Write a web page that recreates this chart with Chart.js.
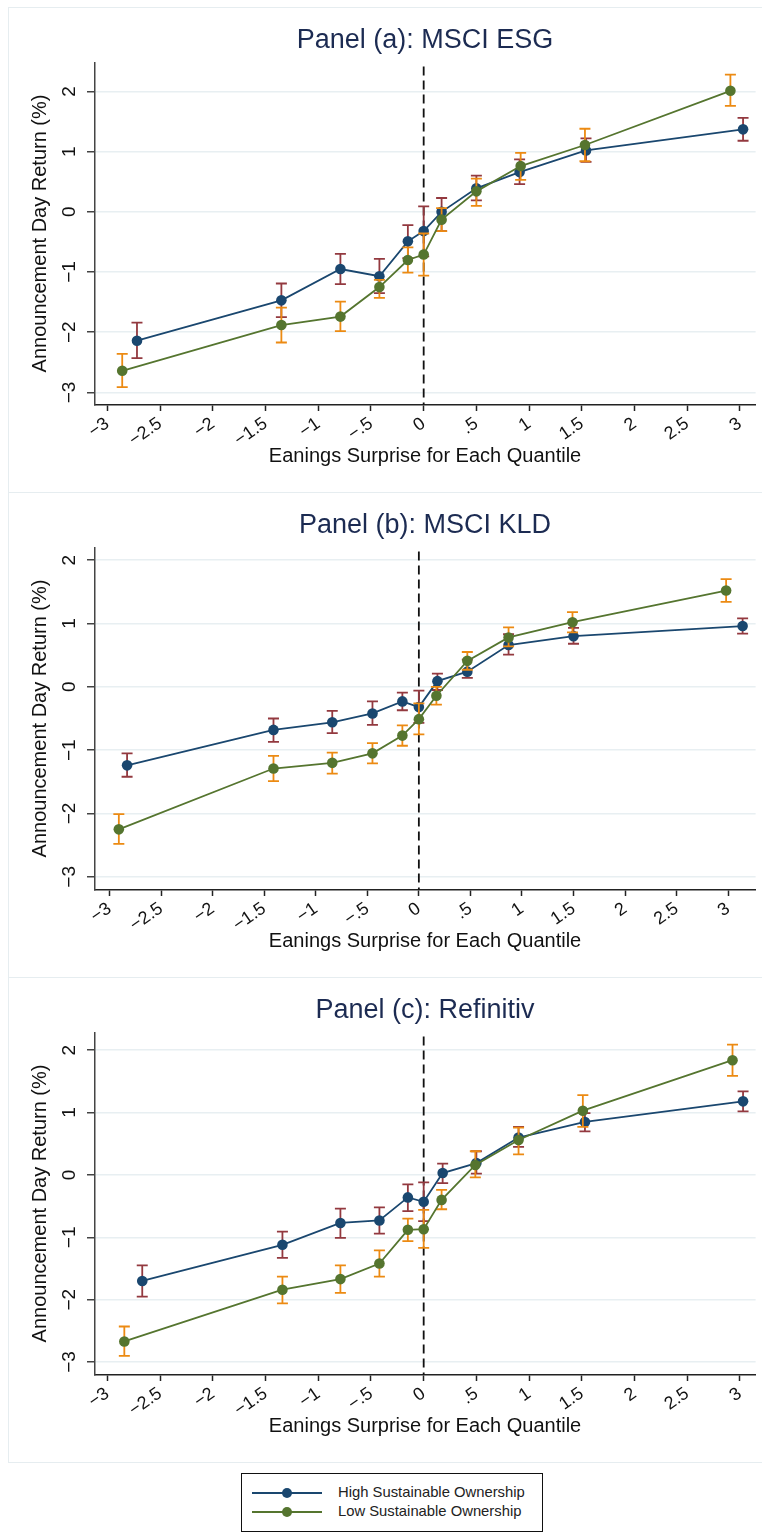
<!DOCTYPE html>
<html>
<head>
<meta charset="utf-8">
<script src="https://cdn.jsdelivr.net/npm/chart.js@4.4.0/dist/chart.umd.min.js"></script>
<style>
  body { margin: 0; background: #fff; }
  #page { position: relative; width: 762px; height: 1533px; overflow: hidden; font-family: 'Liberation Sans', Arial, sans-serif; }
  .frame { position: absolute; left: 8px; width: 760px; height: 486px; box-sizing: border-box; border: 1.5px solid #e6edf0; border-right: none; }
  .panel { position: absolute; left: 0; }
  #legend { position: absolute; left: 241px; top: 1473px; width: 302px; height: 59px; box-sizing: border-box; border: 1.2px solid #111; background: #fff; }
  .row { position: absolute; left: 0; width: 300px; height: 20px; }
  .ln { position: absolute; left: 10px; top: 9px; width: 70px; height: 2px; }
  .dot { position: absolute; left: 40px; top: 5px; width: 10px; height: 10px; border-radius: 50%; }
  .lbl { position: absolute; left: 96px; top: 1px; font-size: 14.8px; color: #222; white-space: nowrap; }
</style>
</head>
<body>
<div id="page">
  <div class="frame" style="top:7px"></div>
  <div class="frame" style="top:492px"></div>
  <div class="frame" style="top:977px"></div>
  <canvas id="panelA" class="panel" width="762" height="485" style="top:7px"></canvas>
  <canvas id="panelB" class="panel" width="762" height="485" style="top:492px"></canvas>
  <canvas id="panelC" class="panel" width="762" height="485" style="top:977px"></canvas>
  <div id="legend">
    <div class="row" style="top:9px"><span class="ln" style="background:#1a476f"></span><span class="dot" style="background:#1a476f"></span><span class="lbl">High Sustainable Ownership</span></div>
    <div class="row" style="top:28px"><span class="ln" style="background:#55752f"></span><span class="dot" style="background:#55752f"></span><span class="lbl">Low Sustainable Ownership</span></div>
  </div>
</div>
<script>
// tick labels
var xTickValues = [-3, -2.5, -2, -1.5, -1, -0.5, 0, 0.5, 1, 1.5, 2, 2.5, 3];
var xTickLabels = ['\u22123', '\u22122.5', '\u22122', '\u22121.5', '\u22121', '\u2212.5', '0', '.5', '1', '1.5', '2', '2.5', '3'];
var yTickValues = [-3, -2, -1, 0, 1, 2];
var yTickLabels = ['\u22123', '\u22122', '\u22121', '0', '1', '2'];

// Panel (a): MSCI ESG
var aHighX  = [-2.72, -1.35, -0.79, -0.42, -0.15, 0.0, 0.17, 0.50, 0.91, 1.54, 3.03];
var aHighY  = [-2.14, -1.47, -0.95, -1.07, -0.49, -0.32, 0.00, 0.39, 0.66, 1.02, 1.37];
var aHighLo = [-2.43, -1.75, -1.20, -1.35, -0.77, -0.74, -0.32, 0.19, 0.46, 0.83, 1.18];
var aHighHi = [-1.84, -1.19, -0.70, -0.78, -0.22, 0.09, 0.23, 0.60, 0.87, 1.22, 1.56];
var aLowX   = [-2.86, -1.35, -0.79, -0.42, -0.15, 0.0, 0.17, 0.50, 0.92, 1.53, 2.91];
var aLowY   = [-2.64, -1.88, -1.74, -1.25, -0.80, -0.71, -0.13, 0.34, 0.76, 1.11, 2.01];
var aLowLo  = [-2.91, -2.17, -1.98, -1.43, -1.01, -1.06, -0.32, 0.10, 0.53, 0.84, 1.76];
var aLowHi  = [-2.36, -1.59, -1.49, -1.13, -0.59, -0.36, 0.06, 0.55, 0.98, 1.38, 2.28];

// Panel (b): MSCI KLD
var bHighX  = [-2.83, -1.41, -0.84, -0.45, -0.16, 0.0, 0.18, 0.47, 0.87, 1.50, 3.14];
var bHighY  = [-1.24, -0.68, -0.56, -0.42, -0.23, -0.32, 0.09, 0.24, 0.66, 0.80, 0.96];
var bHighLo = [-1.42, -0.87, -0.73, -0.60, -0.37, -0.57, -0.05, 0.14, 0.51, 0.68, 0.84];
var bHighHi = [-1.05, -0.50, -0.38, -0.23, -0.09, -0.06, 0.21, 0.43, 0.83, 0.93, 1.08];
var bLowX   = [-2.91, -1.41, -0.84, -0.45, -0.16, 0.0, 0.17, 0.47, 0.87, 1.49, 2.98];
var bLowY   = [-2.25, -1.29, -1.20, -1.05, -0.77, -0.51, -0.14, 0.41, 0.78, 1.02, 1.52];
var bLowLo  = [-2.48, -1.49, -1.37, -1.21, -0.93, -0.75, -0.28, 0.27, 0.64, 0.86, 1.34];
var bLowHi  = [-2.01, -1.09, -1.04, -0.89, -0.61, -0.26, 0.00, 0.55, 0.94, 1.18, 1.70];

// Panel (c): Refinitiv
var cHighX  = [-2.67, -1.34, -0.79, -0.42, -0.15, 0.0, 0.18, 0.50, 0.90, 1.53, 3.03];
var cHighY  = [-1.70, -1.12, -0.77, -0.73, -0.36, -0.43, 0.03, 0.19, 0.60, 0.85, 1.18];
var cHighLo = [-1.95, -1.33, -1.01, -0.94, -0.58, -0.74, -0.13, 0.02, 0.45, 0.70, 1.02];
var cHighHi = [-1.45, -0.91, -0.54, -0.52, -0.15, -0.12, 0.18, 0.38, 0.77, 0.99, 1.34];
var cLowX   = [-2.84, -1.34, -0.79, -0.42, -0.15, 0.0, 0.17, 0.49, 0.90, 1.51, 2.93];
var cLowY   = [-2.67, -1.84, -1.67, -1.42, -0.88, -0.87, -0.40, 0.16, 0.56, 1.03, 1.84];
var cLowLo  = [-2.90, -2.06, -1.89, -1.63, -1.06, -1.17, -0.55, -0.04, 0.33, 0.77, 1.59];
var cLowHi  = [-2.43, -1.63, -1.45, -1.21, -0.70, -0.56, -0.24, 0.38, 0.76, 1.28, 2.09];

var navy = '#1a476f', green = '#55752f', maroon = '#93393f', orange = '#ec8a12';

Chart.defaults.font.family = "'Liberation Sans', Arial, sans-serif";
Chart.defaults.color = '#111';

// confidence caps, drawn just before each series so its markers sit on top
var errorBars = {
  id: 'errorBars',
  beforeDatasetDraw: function(chart, args) {
    var ds = chart.data.datasets[args.index];
    var xs = chart.scales.x, ys = chart.scales.y, ctx = chart.ctx;
    ctx.save();
    ctx.strokeStyle = ds.errColor;
    ctx.lineWidth = 1.8;
    ds.data.forEach(function(p, i) {
      var px = xs.getPixelForValue(p.x);
      var top = ys.getPixelForValue(ds.errHi[i]);
      var bot = ys.getPixelForValue(ds.errLo[i]);
      ctx.beginPath();
      ctx.moveTo(px, top); ctx.lineTo(px, bot);
      ctx.moveTo(px - 5.5, top); ctx.lineTo(px + 5.5, top);
      ctx.moveTo(px - 5.5, bot); ctx.lineTo(px + 5.5, bot);
      ctx.stroke();
    });
    ctx.restore();
  }
};

// dashed line at x = 0
var zeroLine = {
  id: 'zeroLine',
  beforeDatasetsDraw: function(chart) {
    var a = chart.chartArea, ctx = chart.ctx;
    var px = chart.scales.x.getPixelForValue(0);
    ctx.save();
    ctx.setLineDash([9, 5]);
    ctx.strokeStyle = '#111';
    ctx.lineWidth = 1.8;
    ctx.beginPath();
    ctx.moveTo(px, a.top + 4);
    ctx.lineTo(px, a.bottom);
    ctx.stroke();
    ctx.restore();
  }
};

function toPoints(xs, ys) {
  return xs.map(function(x, i) { return {x: x, y: ys[i]}; });
}

function series(label, xs, ys, lo, hi, color, errColor, order) {
  return {
    label: label,
    data: toPoints(xs, ys),
    errLo: lo, errHi: hi, errColor: errColor,
    borderColor: color, backgroundColor: color,
    pointBackgroundColor: color, pointBorderColor: color,
    borderWidth: 1.8, pointRadius: 5.3, pointBorderWidth: 0,
    tension: 0, order: order
  };
}

function drawPanel(id, title, xMin, xMax, yMax, high, low) {
  new Chart(document.getElementById(id), {
    type: 'line',
    data: { datasets: [high, low] },
    options: {
      responsive: false,
      animation: false,
      devicePixelRatio: 1,
      layout: { padding: { left: 0, right: 6.4, top: 0, bottom: 0 } },
      plugins: {
        legend: { display: false },
        tooltip: { enabled: false },
        title: {
          display: true, text: title, fullSize: false, color: '#1c2b52',
          font: { size: 27, weight: 'normal' },
          padding: { top: 17.8, bottom: 5.3 }
        }
      },
      scales: {
        x: {
          type: 'linear', min: xMin, max: xMax,
          afterBuildTicks: function(s) { s.ticks = xTickValues.map(function(v) { return {value: v}; }); },
          afterFit: function(s) { s.height = 485 - 397.5; },
          grid: { drawOnChartArea: false, drawTicks: true, tickLength: 6.5, tickColor: '#222', tickWidth: 1.5 },
          border: { color: '#222', width: 1.5 },
          ticks: {
            autoSkip: false, minRotation: 35, maxRotation: 35, padding: 2,
            font: { size: 18 }, color: '#111',
            callback: function(v) { return xTickLabels[xTickValues.indexOf(v)]; }
          },
          title: { display: true, text: 'Eanings Surprise for Each Quantile', font: { size: 20 }, color: '#111', padding: { top: 0, bottom: 23.5 } }
        },
        y: {
          min: -3.2, max: yMax,
          afterBuildTicks: function(s) { s.ticks = yTickValues.map(function(v) { return {value: v}; }); },
          afterFit: function(s) { s.width = 94.5; },
          grid: { color: '#e8eff2', lineWidth: 1.5, drawTicks: true, tickLength: 7.5, tickColor: '#444', tickWidth: 1.5 },
          border: { color: '#444', width: 1.5 },
          ticks: {
            minRotation: 90, maxRotation: 90, crossAlign: 'center', padding: 6.2,
            font: { size: 19 }, color: '#111',
            callback: function(v) { return yTickLabels[yTickValues.indexOf(v)]; }
          },
          title: { display: true, text: 'Announcement Day Return (%)', font: { size: 20 }, color: '#111', padding: { top: 28, bottom: 0 } }
        }
      }
    },
    plugins: [zeroLine, errorBars]
  });
}

drawPanel('panelA', 'Panel (a): MSCI ESG', -3.123, 3.149, 2.48,
  series('High Sustainable Ownership', aHighX, aHighY, aHighLo, aHighHi, navy, maroon, 2),
  series('Low Sustainable Ownership', aLowX, aLowY, aLowLo, aLowHi, green, orange, 1));
drawPanel('panelB', 'Panel (b): MSCI KLD', -3.146, 3.266, 2.2,
  series('High Sustainable Ownership', bHighX, bHighY, bHighLo, bHighHi, navy, maroon, 2),
  series('Low Sustainable Ownership', bLowX, bLowY, bLowLo, bLowHi, green, orange, 1));
drawPanel('panelC', 'Panel (c): Refinitiv', -3.123, 3.149, 2.284,
  series('High Sustainable Ownership', cHighX, cHighY, cHighLo, cHighHi, navy, maroon, 2),
  series('Low Sustainable Ownership', cLowX, cLowY, cLowLo, cLowHi, green, orange, 1));
</script>
</body>
</html>
